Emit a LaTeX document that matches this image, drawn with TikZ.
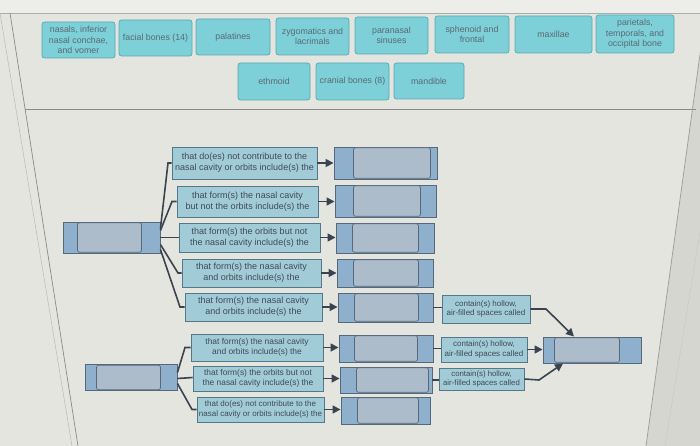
\documentclass[tikz,border=0pt]{standalone}
\usepackage{fontspec}
\setmainfont{Liberation Sans}
\usetikzlibrary{arrows.meta}
\definecolor{bgc}{HTML}{E5E5DF}
\definecolor{bgtop}{HTML}{EDEDE9}
\definecolor{bgright}{HTML}{D6D6D1}
\definecolor{framel}{HTML}{8A8A88}
\definecolor{tilef}{HTML}{7DCFD8}
\definecolor{tileb}{HTML}{57A9B5}
\definecolor{tilet}{HTML}{5A6A72}
\definecolor{lblf}{HTML}{A2CBD8}
\definecolor{lblb}{HTML}{52788A}
\definecolor{lblt}{HTML}{3E4A56}
\definecolor{ansend}{HTML}{8EB0CD}
\definecolor{ansmid}{HTML}{ADBCCA}
\definecolor{ansb}{HTML}{56697C}
\definecolor{lnc}{HTML}{3A4450}
\tikzset{
  tile/.style={draw=tileb, fill=tilef, rounded corners=2.5pt, line width=0.7pt, align=center,
    font=\fontsize{8.8}{10.5}\selectfont, text=tilet, inner sep=1pt},
  lbl/.style={draw=lblb, fill=lblf, line width=0.9pt, align=center,
    font=\fontsize{9}{11}\selectfont, text=lblt, inner sep=1pt},
  lbls/.style={lbl, font=\fontsize{8.4}{10}\selectfont},
  lblc/.style={lbl, font=\fontsize{8}{9.5}\selectfont},
  ans/.style={draw=ansb, fill=ansend, line width=0.9pt, inner sep=0pt},
  ansin/.style={draw=ansb, fill=ansmid, line width=0.7pt, rounded corners=2pt},
  conn/.style={draw=lnc, line width=1.6pt},
  arr/.style={conn, -{Triangle[length=8pt,width=8pt]}},
}
% name, cx, cy, w, h, left inset, right inset
\newcommand{\ansbox}[7]{%
  \node[ans, minimum width=#4pt, minimum height=#5pt] (#1) at (#2,#3) {};
  \draw[ansin] ([xshift=#6pt, yshift=1.2pt]#1.south west) rectangle ([xshift=-#7pt, yshift=-1.2pt]#1.north east);
}
\begin{document}
\begin{tikzpicture}[x=1pt, y=-1pt]
\useasboundingbox (0,0) rectangle (700,446);
% background
\fill[bgc] (0,0) rectangle (700,446);
\fill[bgtop] (0,0) rectangle (700,13);
\fill[bgright] (702,40) -- (646,446) -- (700,446) -- cycle;
\draw[framel!70, line width=0.5pt] (0,13) -- (700,13);
\draw[framel!60, line width=0.5pt] (0,13) -- (72,446);
\draw[framel, line width=0.7pt] (10,13) -- (78,446);
\draw[framel, line width=0.8pt] (25,109) -- (696,109);
\draw[framel!80, line width=0.8pt] (702,40) -- (646,446);
\draw[framel!50, line width=0.4pt] (700,232) -- (665,446);

% top tiles
\node[tile, minimum width=73pt, minimum height=36pt] (t1) at (78.5,40) {nasals, inferior\\nasal conchae,\\and vomer};
\node[tile, minimum width=73pt, minimum height=36pt] (t2) at (155.5,38) {facial bones (14)};
\node[tile, minimum width=74pt, minimum height=36pt] (t3) at (233,37) {palatines};
\node[tile, minimum width=73pt, minimum height=37pt] (t4) at (312.5,36.5) {zygomatics and\\lacrimals};
\node[tile, minimum width=73pt, minimum height=37pt] (t5) at (391.5,35.5) {paranasal\\sinuses};
\node[tile, minimum width=74pt, minimum height=37pt] (t6) at (472,34.5) {sphenoid and\\frontal};
\node[tile, minimum width=77pt, minimum height=37pt] (t7) at (553.5,34.5) {maxillae};
\node[tile, minimum width=78pt, minimum height=38pt] (t8) at (635,34) {parietals,\\temporals, and\\occipital bone};
\node[tile, minimum width=72pt, minimum height=37pt] (t9) at (274,81.5) {ethmoid};
\node[tile, minimum width=73pt, minimum height=37pt] (t10) at (352.5,81.5) {cranial bones (8)};
\node[tile, minimum width=70pt, minimum height=36pt] (t11) at (429,81) {mandible};

% left root boxes
\ansbox{r1}{111.5}{237.5}{97}{31}{15}{19}
\ansbox{r2}{131}{377.5}{92}{26}{12}{17}

% label boxes
\node[lbl, minimum width=145pt, minimum height=32pt] (l1) at (244.5,163) {that do(es) not contribute to the\\nasal cavity or orbits include(s) the};
\node[lbl, minimum width=141pt, minimum height=31pt] (l2) at (247.5,201.5) {that form(s) the nasal cavity\\but not the orbits include(s) the};
\node[lbl, minimum width=141pt, minimum height=29pt] (l3) at (249.5,237.5) {that form(s) the orbits but not\\the nasal cavity include(s) the};
\node[lbl, minimum width=139pt, minimum height=28pt] (l4) at (251.5,273) {that form(s) the nasal cavity\\and orbits include(s) the};
\node[lbl, minimum width=137pt, minimum height=28pt] (l5) at (253.5,307) {that form(s) the nasal cavity\\and orbits include(s) the};
\node[lbls, minimum width=132pt, minimum height=27pt] (l6) at (257,347.5) {that form(s) the nasal cavity\\and orbits include(s) the};
\node[lbls, minimum width=130pt, minimum height=25pt] (l7) at (258,378.5) {that form(s) the orbits but not\\the nasal cavity include(s) the};
\node[lblc, minimum width=127pt, minimum height=25pt] (l8) at (260.5,409.5) {that do(es) not contribute to the\\nasal cavity or orbits include(s) the};

% answer boxes
\ansbox{a1}{385.5}{163}{103}{32}{20}{7}
\ansbox{a2}{385.5}{201}{101}{32}{19}{16}
\ansbox{a3}{385}{238}{98}{30}{17}{16}
\ansbox{a4}{385}{273}{96}{28}{17}{15}
\ansbox{a5}{385.5}{307.5}{95}{29}{17}{15}
\ansbox{a6}{386}{348.5}{94}{27}{16}{16}
\ansbox{a7}{386}{380}{92}{26}{17}{4}
\ansbox{a8}{385.5}{410.5}{89}{27}{17}{12}

% contain boxes
\node[lblc, minimum width=88pt, minimum height=28pt] (c1) at (486,309) {contain(s) hollow,\\air-filled spaces called};
\node[lblc, minimum width=86pt, minimum height=25pt] (c2) at (484,349.5) {contain(s) hollow,\\air-filled spaces called};
\node[lblc, minimum width=85pt, minimum height=22pt, font=\fontsize{7.8}{9}\selectfont] (c3) at (481.5,379) {contain(s) hollow,\\air-filled spaces called};

% final box
\ansbox{f}{592}{350}{98}{26}{12}{22}

% tree from r1
\coordinate (k1) at (168,163);
\coordinate (k2) at (172,201.5);
\coordinate (k4) at (178,273);
\coordinate (k5) at (180,307);
\draw[conn] ([yshift=9pt]r1.east) -- (k1) -- (l1.west);
\draw[conn] ([yshift=7pt]r1.east) -- (k2) -- (l2.west);
\draw[conn] (r1.east) -- (l3.west);
\draw[conn] ([yshift=-7pt]r1.east) -- (k4) -- (l4.west);
\draw[conn] ([yshift=-12pt]r1.east) -- (k5) -- (l5.west);
% tree from r2
\coordinate (k6) at (185,347.5);
\coordinate (k8) at (192,409.5);
\draw[conn] ([yshift=5pt]r2.east) -- (k6) -- (l6.west);
\draw[conn] ([yshift=-1pt]r2.east) -- (r2.east -| l7.west);
\draw[conn] ([yshift=-6pt]r2.east) -- (k8) -- (l8.west);

% label -> answer arrows
\foreach \i in {1,...,8} {
  \draw[arr] (l\i.east) -- (a\i.west |- l\i.east);
}
% answer -> contain
\draw[conn] (a5.east) -- (a5.east -| c1.west);
\draw[conn] (a6.east) -- (a6.east -| c2.west);
\draw[conn] (a7.east) -- (a7.east -| c3.west);
% contain -> final
\coordinate (m1) at (546,309);
\coordinate (m3) at (539,380);
\draw[arr] (c1.east) -- (m1) -- ([xshift=-18pt]f.north);
\draw[arr] (c2.east) -- (c2.east -| f.west);
\draw[arr] (c3.east) -- (m3) -- ([xshift=-29pt]f.south);
\end{tikzpicture}
\end{document}
